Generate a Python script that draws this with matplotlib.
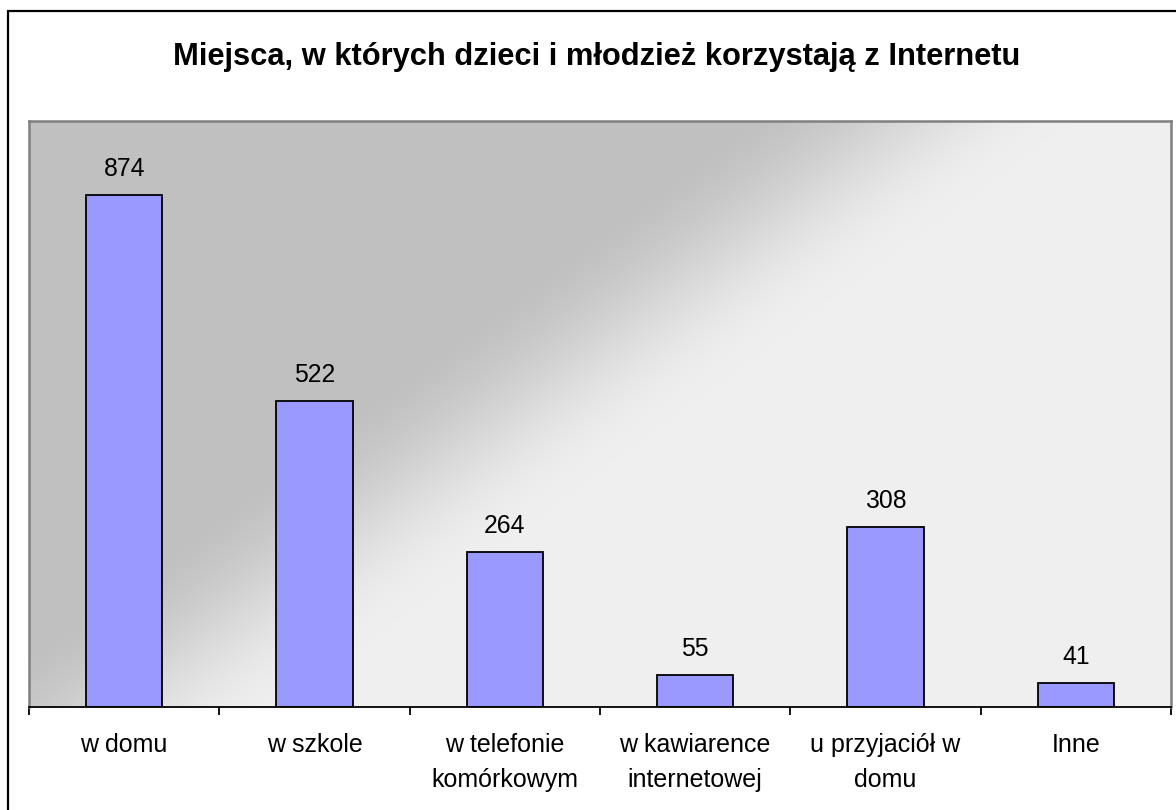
import matplotlib
matplotlib.use("Agg")
import matplotlib.pyplot as plt
import numpy as np
from matplotlib.patches import Rectangle

categories = ["w domu", "w szkole", "w telefonie\nkomórkowym", "w kawiarence\ninternetowej",
              "u przyjaciół w\ndomu", "Inne"]
values = [874, 522, 264, 55, 308, 41]
title = "Miejsca, w których dzieci i młodzież korzystają z Internetu"

plt.rcParams['font.family'] = ['Liberation Sans', 'DejaVu Sans']

W, H = 1176, 810
fig = plt.figure(figsize=(W / 100, H / 100), dpi=100)
fig.patch.set_facecolor("white")

# outer chart border
fig.patches.append(Rectangle((8 / W, -0.05), 1.1, 1 - 11 / H + 0.05, transform=fig.transFigure,
                             fill=False, edgecolor="black", linewidth=1.6, zorder=0))

ax_l, ax_r, ax_t, ax_b = 29, 1171, 121, 707
ax = fig.add_axes([ax_l / W, 1 - ax_b / H, (ax_r - ax_l) / W, (ax_b - ax_t) / H])

# gradient background (dark top-left to light bottom-right)
pw, ph = ax_r - ax_l, ax_b - ax_t
xx, yy = np.meshgrid(np.arange(pw), np.arange(ph))
t = xx + 1.35 * yy
s = np.clip((t - 700) / 340.0, 0, 1)
s = s * s * (3 - 2 * s)
c0, c1 = 192 / 255, 239 / 255
img = c0 + (c1 - c0) * s
ax.imshow(np.dstack([img, img, img]), extent=[-0.5, 5.5, 0, 1000], aspect="auto",
          origin="upper", zorder=0, interpolation="bilinear")

x = np.arange(len(categories))
bars = ax.bar(x, values, width=0.4, color="#9999FF", edgecolor="black", linewidth=1.3, zorder=2)
for xi, v in zip(x, values):
    ax.annotate(str(v), (xi, v), xytext=(0, 10), textcoords="offset points",
                ha="center", va="bottom", fontsize=17.8, color="black")

ax.set_xlim(-0.5, 5.5)
ax.set_ylim(0, 1000)
ax.set_yticks([])
ax.set_xticks(np.arange(-0.5, 6, 1))
ax.set_xticklabels([])
ax.set_xticks(x, minor=True)
ax.set_xticklabels(categories, minor=True, fontsize=18, linespacing=1.6)
ax.tick_params(axis="x", which="major", length=6, width=1.3, color="black", direction="out")
ax.tick_params(axis="x", which="minor", length=0, pad=18.5)

for sp in ["left", "top", "right"]:
    ax.spines[sp].set_color("#808080")
    ax.spines[sp].set_linewidth(1.8)
ax.spines["bottom"].set_color("black")
ax.spines["bottom"].set_linewidth(1.3)

fig.text(597 / W, 1 - 57 / H, title, ha="center", va="center", fontsize=22.2, fontweight="bold")

fig.savefig("out.png", dpi=100)
